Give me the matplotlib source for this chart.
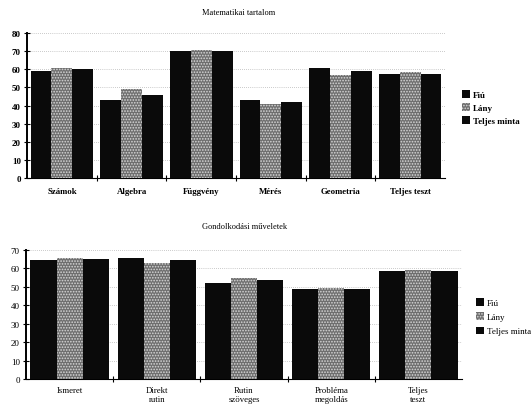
import matplotlib
matplotlib.use("Agg")
import matplotlib.pyplot as plt
import numpy as np

plt.rcParams["font.family"] = ["Liberation Serif", "DejaVu Serif"]
plt.rcParams["hatch.color"] = "#d8d8d8"
plt.rcParams["hatch.linewidth"] = 0.8

series = ["Fiú", "Lány", "Teljes minta"]

# Matematikai tartalom
cats_top = ["Számok", "Algebra", "Függvény", "Mérés", "Geometria", "Teljes teszt"]
fiu_top = [59, 43, 70, 43, 61, 57.5]
lany_top = [61, 49, 70.5, 41, 57, 58.5]
teljes_top = [60, 46, 70, 42, 59, 57.5]

# Gondolkodási műveletek
cats_bot = ["Ismeret", "Direkt\nrutin", "Rutin\nszöveges", "Probléma\nmegoldás", "Teljes\nteszt"]
fiu_bot = [64.5, 65.5, 52, 48.5, 58.5]
lany_bot = [65.5, 63, 54.5, 49.5, 59]
teljes_bot = [65, 64.5, 53.5, 49, 58.5]

c_dark = "#0a0a0a"
c_lany = "#6e6e6e"


def draw(ax, cats, vals, ymax, ystep, bold, pad):
    n = len(cats)
    x = np.arange(n)
    w = 0.3
    weight = "bold" if bold else "normal"
    bars = []
    for i, v in enumerate(vals):
        if i == 1:
            b = ax.bar(x + (i - 1) * w, v, w, color=c_lany, hatch="......", lw=0, zorder=3)
        else:
            b = ax.bar(x + (i - 1) * w, v, w, color=c_dark, lw=0, zorder=3)
        bars.append(b)
    ax.set_xlim(-0.5, n - 0.5)
    ax.set_ylim(0, ymax)
    ax.set_yticks(np.arange(0, ymax + 1, ystep))
    ax.set_yticklabels([str(t) for t in np.arange(0, ymax + 1, ystep)],
                       fontsize=6.5, fontweight=weight)
    ax.set_xticks(np.arange(n - 1) + 0.5)
    ax.set_xticklabels([])
    ax.set_xticks(x, minor=True)
    ax.set_xticklabels(cats, minor=True, fontsize=6.3, fontweight=weight,
                       linespacing=1.05)
    ax.tick_params(axis="x", which="minor", length=0, pad=pad)
    ax.tick_params(axis="x", which="major", direction="inout", length=4, width=0.8)
    ax.tick_params(axis="y", direction="inout", length=5, width=0.8, pad=2)
    ax.grid(axis="y", color="#999999", ls=(0, (1, 2)), lw=0.5, zorder=0)
    for s in ["top", "right"]:
        ax.spines[s].set_visible(False)
    ax.spines["left"].set_linewidth(1.4)
    ax.spines["bottom"].set_linewidth(0.8)
    return bars


fig = plt.figure(figsize=(5.31, 4.10), dpi=100)

ax1 = fig.add_axes([0.051, 0.563, 0.787, 0.354])
bars = draw(ax1, cats_top, [fiu_top, lany_top, teljes_top], 80, 10, True, 6)
fig.text(0.45, 0.968, "Matematikai tartalom", ha="center", va="center", fontsize=6)
fig.legend(bars, series, loc="center left", bbox_to_anchor=(0.862, 0.735),
           frameon=False, handlelength=0.9, handleheight=0.9,
           handletextpad=0.3, labelspacing=0.45, borderpad=0,
           prop={"weight": "bold", "size": 6.5})

ax2 = fig.add_axes([0.049, 0.072, 0.821, 0.317])
bars = draw(ax2, cats_bot, [fiu_bot, lany_bot, teljes_bot], 70, 10, False, 5)
fig.text(0.46, 0.446, "Gondolkodási műveletek", ha="center", va="center", fontsize=6)
fig.legend(bars, series, loc="center left", bbox_to_anchor=(0.888, 0.225),
           frameon=False, fontsize=6.5, handlelength=0.9, handleheight=0.9,
           handletextpad=0.3, labelspacing=0.6, borderpad=0)

fig.savefig("out.png", dpi=100)
